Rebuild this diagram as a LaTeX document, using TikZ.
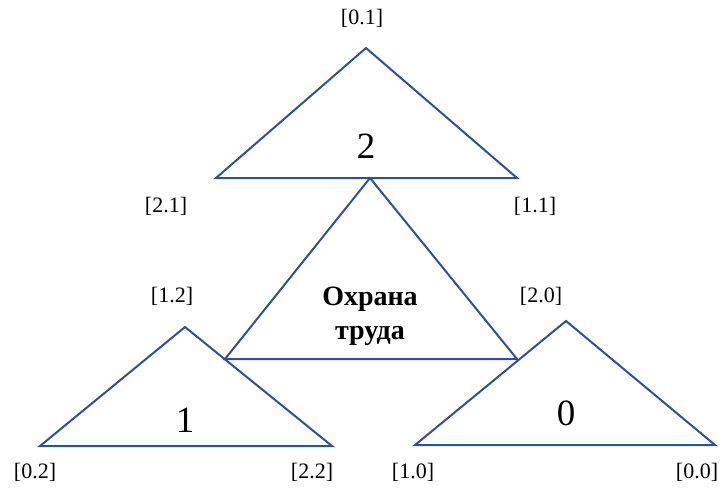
\documentclass[tikz,border=0pt]{standalone}
\usepackage{fontspec}
\setmainfont{Liberation Serif}
\usepackage{tikz}
\usetikzlibrary{positioning}
\definecolor{lineblue}{RGB}{47,82,143}

\begin{document}
\begin{tikzpicture}[
  x=1pt, y=-1pt,
  every node/.style={align=center, inner sep=0pt},
  tri/.style={draw=lineblue, line width=2pt, line join=miter},
  cornerlbl/.style={font=\fontsize{22}{24}\selectfont},
  numlbl/.style={font=\fontsize{37}{38}\selectfont},
  mainlbl/.style={font=\fontsize{28}{34}\selectfont\bfseries},
]
\useasboundingbox (0,0) rectangle (725,493);

%% Triangle vertices
\coordinate (topA) at (366,48);
\coordinate (topL) at (216,178);
\coordinate (topR) at (517,178);
\coordinate (midA) at (370,178);
\coordinate (midL) at (225,359);
\coordinate (midR) at (517,359);
\coordinate (lftA) at (185,327);
\coordinate (lftL) at (40,446);
\coordinate (lftR) at (332,446);
\coordinate (rgtA) at (566,321);
\coordinate (rgtL) at (415,445);
\coordinate (rgtR) at (715,445);

%% Triangles
\draw[tri] (topA) -- (topR) -- (topL) -- cycle;
\draw[tri] (midA) -- (midR) -- (midL) -- cycle;
\draw[tri] (lftA) -- (lftR) -- (lftL) -- cycle;
\draw[tri] (rgtA) -- (rgtR) -- (rgtL) -- cycle;

%% Inner labels
\node[numlbl] (num2) at (366,146) {2};
\node[numlbl] (num1) at (185,420) {1};
\node[numlbl] (num0) at (566,413) {0};
\node[mainlbl] (main) at (370,316) {Охрана\\труда};

%% Corner labels
\node[cornerlbl] (c01) at (362,18) {[0.1]};
\node[cornerlbl] (c21) at (166,206) {[2.1]};
\node[cornerlbl] (c11) at (535,206) {[1.1]};
\node[cornerlbl] (c12) at (172,296) {[1.2]};
\node[cornerlbl] (c20) at (541,296) {[2.0]};
\node[cornerlbl] (c02) at (35,472) {[0.2]};
\node[cornerlbl] (c22) at (312,472) {[2.2]};
\node[cornerlbl] (c10) at (413,472) {[1.0]};
\node[cornerlbl] (c00) at (697,472) {[0.0]};

\end{tikzpicture}
\end{document}
